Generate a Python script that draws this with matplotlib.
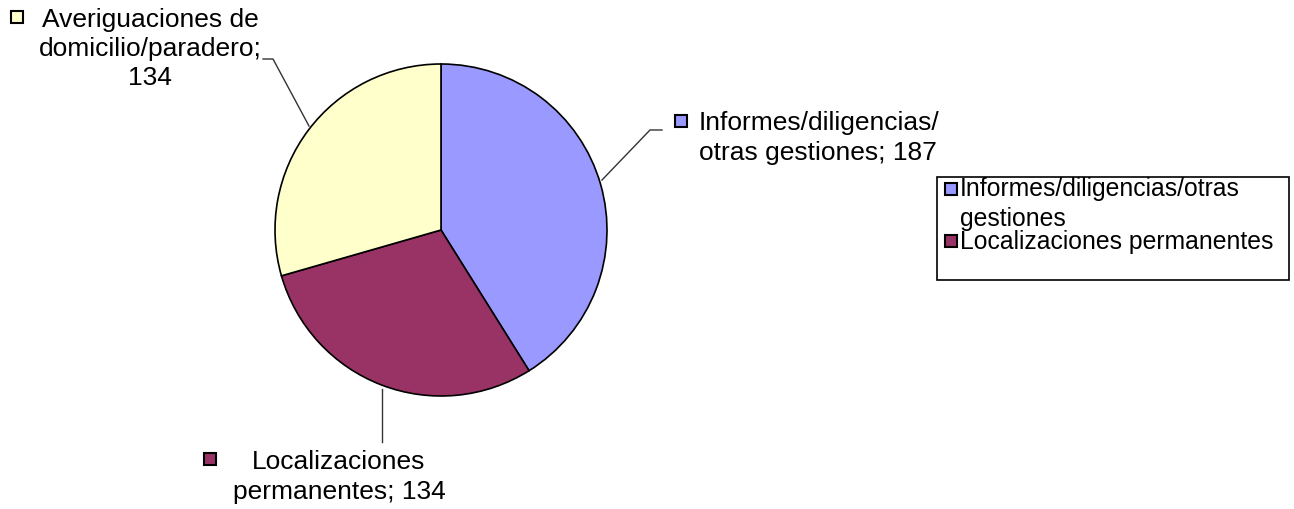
import matplotlib
matplotlib.use('Agg')
import matplotlib.pyplot as plt
from matplotlib.patches import Rectangle

# data
labels = ['Informes/diligencias/otras gestiones',
          'Localizaciones permanentes',
          'Averiguaciones de domicilio/paradero']
values = [187, 134, 134]
colors = ['#9999FF', '#993366', '#FFFFCC']

W, H = 1294, 510
plt.rcParams['font.family'] = ['Liberation Sans', 'DejaVu Sans']

fig = plt.figure(figsize=(W / 100, H / 100), dpi=100)
ax = fig.add_axes([0, 0, 1, 1])


def Y(y):
    # pixel rows from the top -> data y
    return H - y


ax.pie(values, colors=colors, startangle=90, counterclock=False,
       center=(441, Y(231)), radius=166, frame=True,
       wedgeprops=dict(edgecolor='black', linewidth=1.2))
ax.set_xlim(0, W)
ax.set_ylim(0, H)
ax.set_aspect('equal')
ax.axis('off')

fs = 19


def marker(x, y, c):
    ax.add_patch(Rectangle((x - 6, Y(y) - 6), 12, 12, facecolor=c,
                           edgecolor='black', linewidth=1.5, zorder=5))


# leader lines
ax.plot([602, 650, 662], [Y(181), Y(131), Y(131)], color='#333333', lw=1)
ax.plot([263, 273, 309], [Y(60), Y(60), Y(127)], color='#333333', lw=1)
ax.plot([382, 382], [Y(390), Y(443)], color='#333333', lw=1)

# data labels
marker(681, 122, colors[0])
ax.text(699, Y(138), 'Informes/diligencias/\notras gestiones; %d' % values[0],
        fontsize=fs, ha='left', va='center', linespacing=1.27)

marker(17, 18, colors[2])
ax.text(150, Y(49), 'Averiguaciones de\ndomicilio/paradero;\n%d' % values[2],
        fontsize=fs, ha='center', va='center', linespacing=1.27)

marker(210, 460, colors[1])
ax.text(339, Y(477), 'Localizaciones\npermanentes; %d' % values[1],
        fontsize=fs, ha='center', va='center', linespacing=1.27)

# legend box (third entry clipped as in the original)
ax.add_patch(Rectangle((937, Y(281)), 352, 103, facecolor='white',
                       edgecolor='black', linewidth=1.2, zorder=4))
lfs = 17.8
marker(951, 190, colors[0])
ax.text(960, Y(204), 'Informes/diligencias/otras\ngestiones', fontsize=lfs,
        ha='left', va='center', linespacing=1.3, zorder=6)
marker(951, 242, colors[1])
ax.text(960, Y(242), 'Localizaciones permanentes', fontsize=lfs,
        ha='left', va='center', zorder=6)

fig.savefig('out.png', dpi=100)
